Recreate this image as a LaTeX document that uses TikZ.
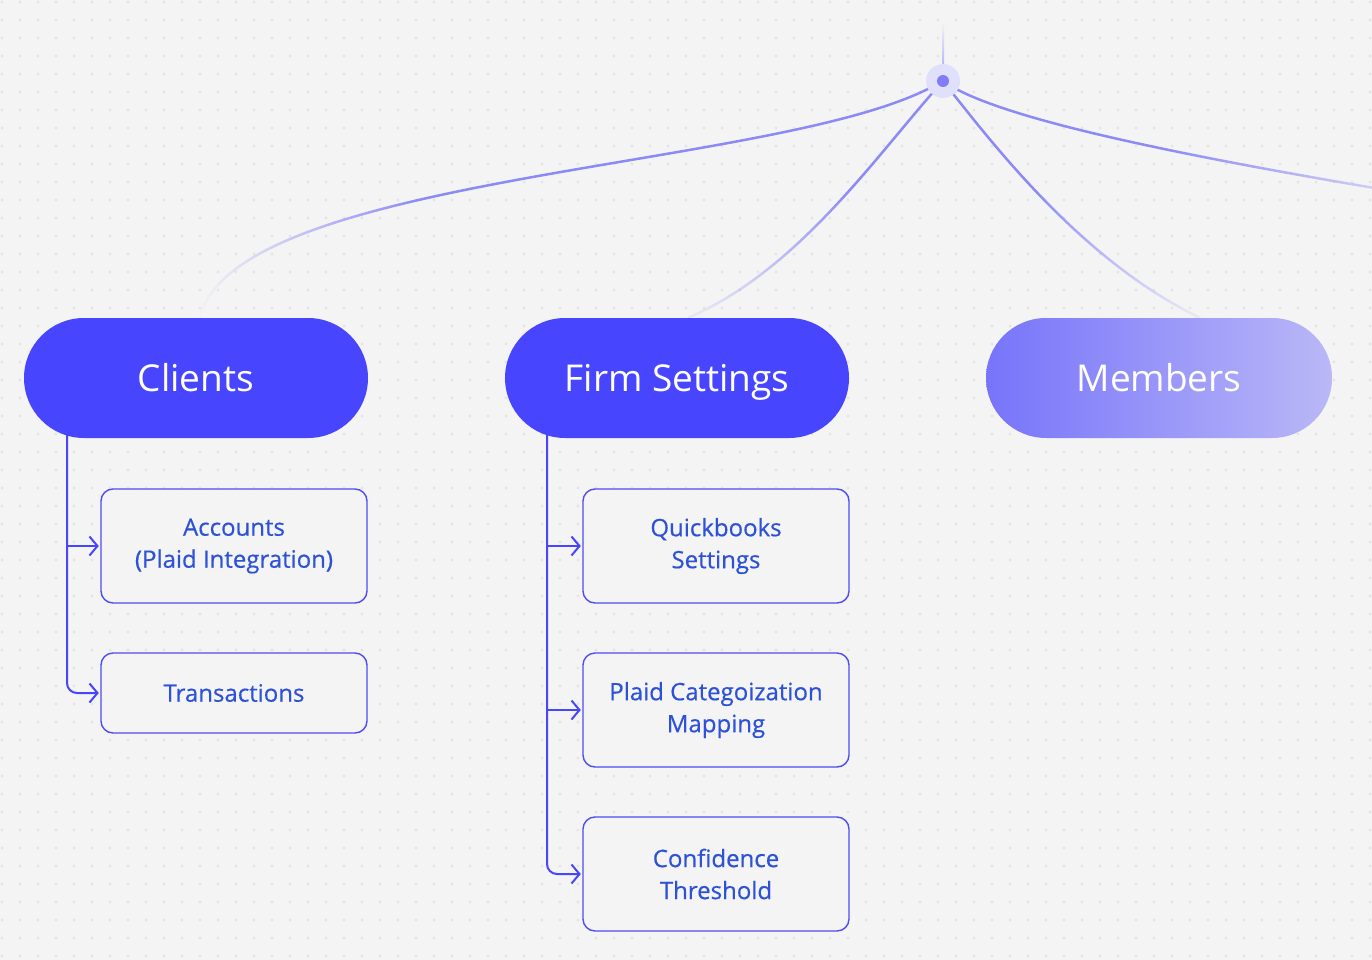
\documentclass[tikz,border=0pt]{standalone}
\usepackage{fontspec}
\setmainfont{Open Sans}
\usetikzlibrary{arrows.meta,shapes.misc,fadings}
\definecolor{canvas}{HTML}{F4F4F4}
\definecolor{dotgray}{HTML}{E4E4E4}
\definecolor{pillblue}{HTML}{4845FF}
\definecolor{memleft}{HTML}{7774FA}
\definecolor{memright}{HTML}{BAB8F7}
\definecolor{boxline}{HTML}{4F4CF7}
\definecolor{boxtext}{HTML}{2D52D8}
\definecolor{curve}{HTML}{8C8AF7}
\definecolor{halo}{HTML}{E1E0FA}
\definecolor{hubdot}{HTML}{7F7DF7}
\pgfdeclarelayer{canvaslayer}
\pgfdeclarelayer{wires}
\pgfsetlayers{canvaslayer,wires,main}
% fadings for the spokes: opaque near the hub, thin out at the far end
\begin{tikzfadingfrompicture}[name=tailwest]
  \path (-50bp,-50bp) rectangle (50bp,50bp);
  \shade[left color=transparent!100, right color=transparent!0] (-25bp,-50bp) rectangle (-10bp,50bp);
  \fill[transparent!0] (-10bp,-50bp) rectangle (50bp,50bp);
\end{tikzfadingfrompicture}
\begin{tikzfadingfrompicture}[name=taileast]
  \path (-50bp,-50bp) rectangle (50bp,50bp);
  \fill[transparent!0] (-50bp,-50bp) rectangle (0bp,50bp);
  \shade[left color=transparent!0, right color=transparent!65] (0bp,-50bp) rectangle (25bp,50bp);
  \fill[transparent!65] (25bp,-50bp) rectangle (50bp,50bp);
\end{tikzfadingfrompicture}
\begin{tikzfadingfrompicture}[name=tailsouth]
  \path (-50bp,-50bp) rectangle (50bp,50bp);
  \fill[transparent!0] (-50bp,2bp) rectangle (50bp,50bp);
  \shade[top color=transparent!0, bottom color=transparent!92] (-50bp,-25bp) rectangle (50bp,2bp);
\end{tikzfadingfrompicture}
\begin{document}
\begin{tikzpicture}[x=1pt, y=-1pt, line join=round, line cap=round,
    pill/.style={rounded rectangle, minimum width=344pt, minimum height=120pt, inner sep=0pt,
      fill=pillblue, text=white, font=\fontsize{37}{44}\selectfont,
      text height=26.5pt, text depth=0pt},
    leaf/.style={rectangle, rounded corners=12pt, draw=boxline, line width=1.4pt, fill=canvas,
      minimum width=266pt, minimum height=114pt, inner sep=0pt, align=center,
      text=boxtext, font=\fontsize{24}{32}\selectfont\addfontfeature{FakeBold=0.5}},
    link/.style={draw=pillblue, line width=2pt, rounded corners=10pt,
      -{Straight Barb[length=8pt,width=19pt,line width=2pt]}, shorten >=1.5pt},
    spoke/.style={draw=curve, line width=2.5pt}]
    \def\W{1372}\def\H{960}
    % canvas and dot grid
    \begin{pgfonlayer}{canvaslayer}
    \fill[canvas] (0,0) rectangle (\W,\H);
    \foreach \i in {0,...,76}
      \foreach \j in {0,...,53}
        \fill[dotgray] (2+18*\i,2+18*\j) circle (1.6pt);
    \end{pgfonlayer}
    \useasboundingbox (0,0) rectangle (\W,\H);

    % pills
    \node[pill] (clients) at (196,378) {Clients};
    \node[pill] (firm) at (677,378) {Firm Settings};
    \node[pill, fill=none, left color=memleft, right color=memright, minimum width=346pt] (members) at (1159,378) {Members};

    % leaves
    \node[leaf] (accounts) at (234,546) {Accounts\\(Plaid Integration)};
    \node[leaf, minimum height=80pt] (transactions) at (234,693) {Transactions};
    \node[leaf] (qbsettings) at (716,546) {Quickbooks\\Settings};
    \node[leaf] (plaidmap) at (716,710) {Plaid Categoization\\Mapping};
    \node[leaf] (confidence) at (716,874) {Confidence\\Threshold};

    % hub
    \coordinate (hub) at (943,81);
    \coordinate (offright) at (1374,188);
    \coordinate (ctrunk) at (67,425);
    \coordinate (ftrunk) at (547,425);

    \begin{pgfonlayer}{wires}
    % feed line into the hub
    \shade[top color=canvas, bottom color=curve!80] (942,22) rectangle (944,81);
    % spokes from the hub
    \draw[spoke, path fading=tailwest] (hub) .. controls (800,170) and (235,170) .. ([xshift=4pt]clients.north);
    \draw[spoke, path fading=tailsouth] (hub) .. controls (880,150) and (800,270) .. ([xshift=11pt]firm.north);
    \draw[spoke, path fading=tailsouth] (hub) .. controls (990,140) and (1080,260) .. ([xshift=41pt]members.north);
    \draw[spoke, path fading=taileast] (hub) .. controls (990,115) and (1150,150) .. (offright);
    \fill[halo] (hub) circle (17pt);
    \fill[hubdot] (hub) circle (6pt);
    % trunks
    \draw[link] (ctrunk) |- (transactions.west);
    \draw[link] (ctrunk |- accounts.west) -- (accounts.west);
    \draw[link] (ftrunk) |- (confidence.west);
    \draw[link] (ftrunk |- qbsettings.west) -- (qbsettings.west);
    \draw[link] (ftrunk |- plaidmap.west) -- (plaidmap.west);
    \end{pgfonlayer}
\end{tikzpicture}
\end{document}
